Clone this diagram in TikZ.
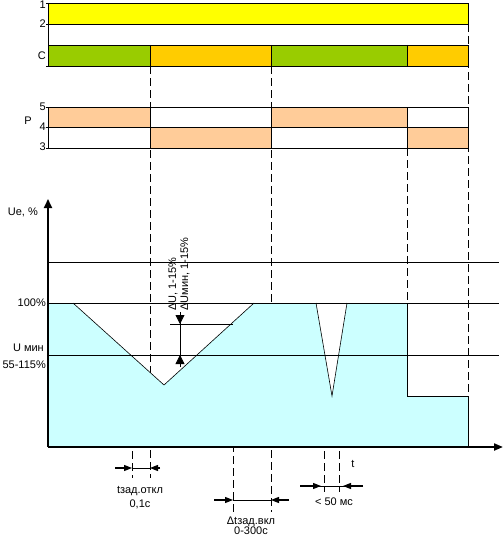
\documentclass[tikz,border=0pt]{standalone}
\usepackage{fontspec}
\setmainfont{Liberation Sans}
\usetikzlibrary{arrows.meta}
\definecolor{cyellow}{HTML}{FFFF00}
\definecolor{cgreen}{HTML}{99CC00}
\definecolor{corange}{HTML}{FFCC00}
\definecolor{cpeach}{HTML}{FFCC99}
\definecolor{ccyan}{HTML}{CCFFFF}
\begin{document}
\begin{tikzpicture}[x=1pt,y=-1pt,
  every node/.style={font=\fontsize{11}{12}\selectfont,inner sep=0pt},
  bar/.style={draw=black,line width=0.9pt},
  thinline/.style={draw=black,line width=0.8pt},
  dashline/.style={draw=black,line width=0.8pt,dash pattern=on 8pt off 4pt},
  axis/.style={draw=black,line width=2pt},
  dimarrow/.style={line width=1.2pt,-{Triangle[length=8pt,width=6pt]}},
  bigarrow/.style={line width=0.8pt,-{Triangle[length=9pt,width=9pt]}},
  lbl/.style={anchor=east},
  basel/.style={anchor=base}]
\useasboundingbox (0,0) rectangle (503,535);
% dashed guides
\draw[dashline] (150,66) -- (150,478);
\draw[dashline] (271,66) -- (271,512);
\draw[dashline] (407,148) -- (407,303);
\draw[dashline] (468,24) -- (468,396);
\draw[dashline] (132,355) -- (132,478);
\draw[dashline] (233,324) -- (233,512);
\draw[dashline] (324,355) -- (324,492);
\draw[dashline] (339,355) -- (339,492);
% top bar 1-2
\fill[cyellow] (48,3) rectangle (468,24);
\draw[bar] (46,3) -- (468,3) -- (468,24) -- (46,24);
\draw[bar] (48,3) -- (48,66);
% C row
\fill[cgreen] (48,45) rectangle (150,66);
\fill[corange] (150,45) rectangle (271,66);
\fill[cgreen] (271,45) rectangle (407,66);
\fill[corange] (407,45) rectangle (468,66);
\draw[bar] (48,45) rectangle (468,66);
\draw[bar] (46,66) -- (48,66);
\draw[bar] (150,45) -- (150,66) (271,45) -- (271,66) (407,45) -- (407,66);
% P rows
\fill[cpeach] (48,107) rectangle (150,127);
\fill[cpeach] (271,107) rectangle (407,127);
\fill[cpeach] (150,127) rectangle (271,148);
\fill[cpeach] (407,127) rectangle (468,148);
\draw[bar] (46,107) -- (468,107);
\draw[bar] (46,127) -- (468,127);
\draw[bar] (46,148) -- (468,148);
\draw[bar] (48,107) -- (48,148);
\draw[bar] (150,107) -- (150,148) (271,107) -- (271,148) (407,107) -- (407,148) (468,107) -- (468,148);
% labels of bars
\node[lbl] (l1) at (46,5) {1};
\node[lbl] (l2) at (46,24) {2};
\node[lbl] (lc) at (46,56) {C};
\node[lbl] (l5) at (46,107) {5};
\node[lbl] (l4) at (46,127) {4};
\node[lbl] (l3) at (46,147) {3};
\node (lp) at (28,121) {P};
% graph fill
\fill[ccyan] (48,303) -- (73,303) -- (164,385) -- (254,303) -- (316,303) -- (332,396) -- (347,303) -- (407,303) -- (407,396) -- (468,396) -- (468,447) -- (48,447) -- cycle;
% level lines
\draw[thinline] (48,262) -- (499,262);
\draw[thinline] (48,303) -- (499,303);
\draw[thinline] (48,355) -- (499,355);
\draw[line width=0.6pt] (73,303) -- (164,385) -- (254,303);
\draw[line width=0.6pt] (316,303) -- (332,396) -- (347,303);
\draw[thinline] (407,303) -- (407,396) -- (468,396) -- (468,447);
\draw[thinline] (170,324) -- (233,324);
% axes
\coordinate (o) at (48,447);
\coordinate (ytop) at (48,199);
\coordinate (xend) at (503,447);
\draw[axis,-{Triangle[length=9pt,width=8pt]}] (o) -- (ytop);
\draw[axis,-{Triangle[length=9pt,width=7pt]}] (o) -- (xend);
% delta U arrows
\draw[thinline] (180,313) -- (180,365);
\draw[bigarrow] (180,312) -- (180,324);
\draw[bigarrow] (180,367) -- (180,355);
\node[anchor=west,rotate=90] (du) at (173,311) {ΔU, 1-15\%};
\node[anchor=west,rotate=90] (dumin) at (185,311) {ΔUмин, 1-15\%};
% axis labels
\node[lbl] (ue) at (38,212) {Ue, \%};
\node[lbl] (p100) at (46,303) {100\%};
\node[lbl] (umin) at (44,348) {U мин};
\node[lbl] (range) at (46,365) {55-115\%};
\node[basel] (t) at (353,467) {t};
% time dimension arrows
\draw[thinline] (132,468) -- (150,468);
\draw[dimarrow] (115,468) -- (132,468);
\draw[dimarrow] (160,468) -- (150,468);
\node[basel] (toff) at (140,493) {tзад.откл};
\node[basel] (toffv) at (140,507) {0,1с};
\draw[thinline] (233,500) -- (271,500);
\draw[dimarrow] (214,500) -- (233,500);
\draw[dimarrow] (289,500) -- (271,500);
\node[basel] (ton) at (251,524) {Δtзад.вкл};
\node[basel] (tonv) at (251,534) {0-300с};
\draw[thinline] (300,486) -- (363,486);
\draw[dimarrow] (300,486) -- (321,486);
\draw[dimarrow] (363,486) -- (343,486);
\node[basel] (tms) at (334,505) {< 50 мс};
\end{tikzpicture}
\end{document}
